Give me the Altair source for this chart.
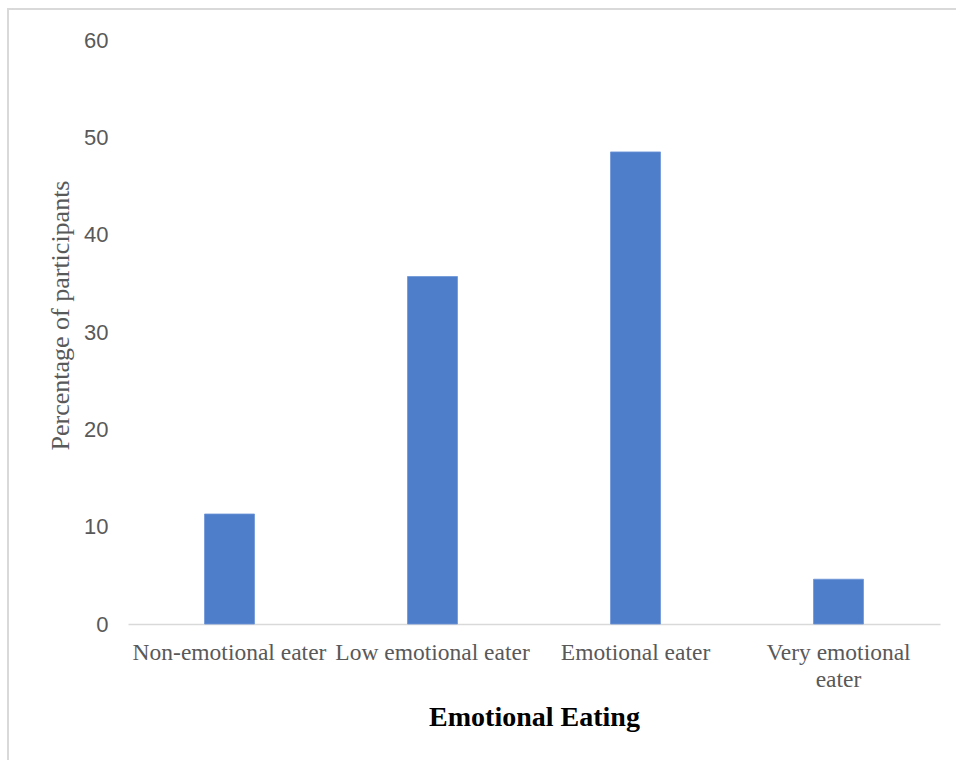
import altair as alt
import pandas as pd

categories = ["Non-emotional eater", "Low emotional eater", "Emotional eater", "Very emotional eater"]
values = [11.3, 35.7, 48.5, 4.6]

df = pd.DataFrame({"category": categories, "value": values})

W, H = 812, 584

bars = alt.Chart(df).mark_bar(size=50, color="#4e7dc9", stroke="#6d95d8", strokeWidth=0.8).encode(
    x=alt.X("category:N", sort=categories,
            scale=alt.Scale(paddingInner=0, paddingOuter=0),
            axis=alt.Axis(title="Emotional Eating", labelAngle=0,
                          labelFont="Liberation Serif", labelFontSize=23.5, labelColor="#595959",
                          labelPadding=16, labelLineHeight=27, labelLimit=0, labelOverlap=False,
                          labelExpr="datum.label == 'Very emotional eater' ? ['Very emotional', 'eater'] : datum.label",
                          ticks=False, domainColor="#d9d9d9", domainWidth=1.5,
                          titleFont="Liberation Serif", titleFontSize=28, titleFontWeight="bold",
                          titleColor="#000000", titlePadding=13)),
    y=alt.Y("value:Q", scale=alt.Scale(domain=[0, 60], nice=False),
            axis=alt.Axis(title="Percentage of participants", values=[0, 10, 20, 30, 40, 50, 60],
                          grid=False, domain=False, ticks=False,
                          labelFont="Liberation Sans", labelFontSize=22, labelColor="#595959",
                          labelPadding=20,
                          titleFont="Liberation Serif", titleFontSize=26, titleFontWeight="normal",
                          titleColor="#595959", titleY=275, titlePadding=10)),
)

frame = alt.Chart(pd.DataFrame({"a": [0]})).mark_rect(fill=None, stroke="#d9d9d9", strokeWidth=2).encode(
    x=alt.value(-120), x2=alt.value(W + 200), y=alt.value(-31), y2=alt.value(H + 300)
)

chart = alt.layer(frame, bars).properties(
    width=W, height=H,
    padding={"left": 128, "top": 40, "right": 16, "bottom": 136},
    autosize=alt.AutoSizeParams(type="none"),
    background="white",
).configure_view(stroke=None)

chart.save("out.html", embed_options={"renderer": "svg", "actions": False})
